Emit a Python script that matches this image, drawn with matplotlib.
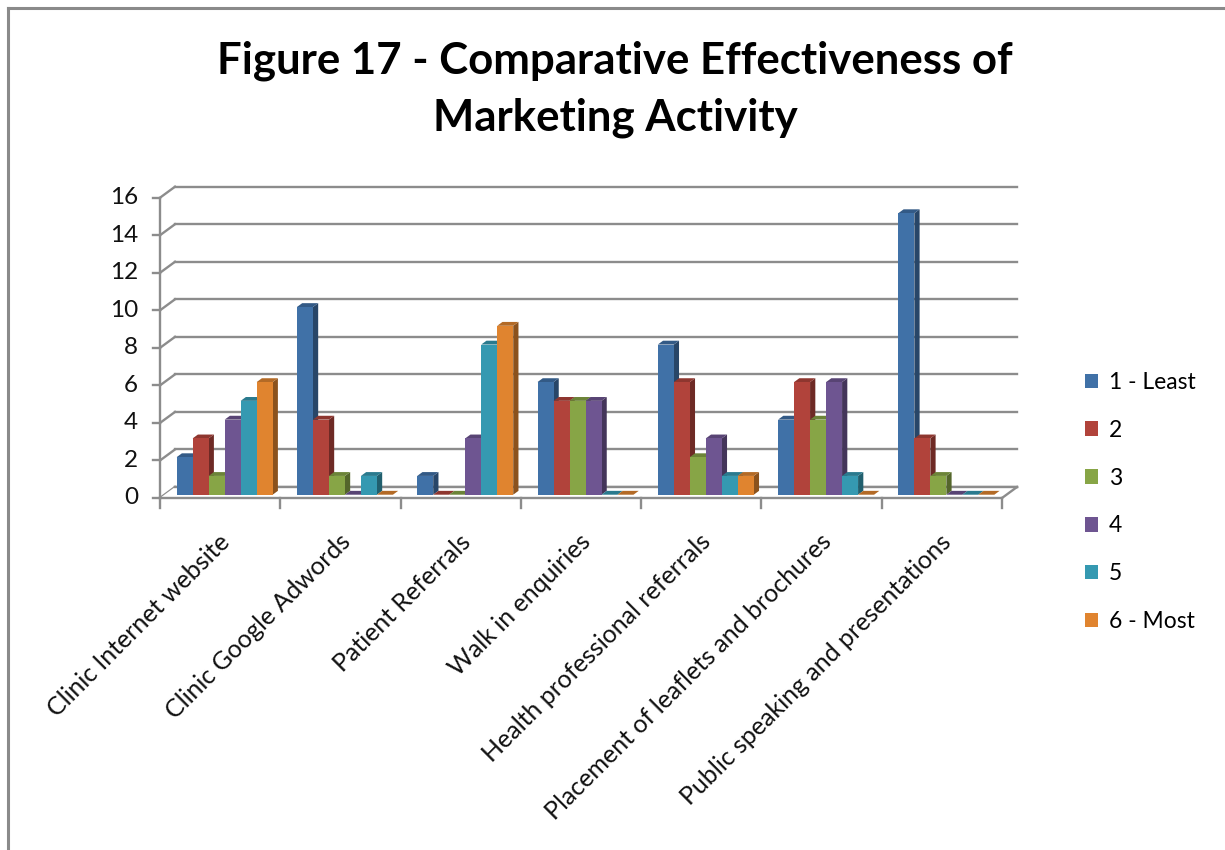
import numpy as np
import matplotlib.pyplot as plt
from matplotlib.patches import Polygon, Patch
from matplotlib.lines import Line2D
from matplotlib.colors import to_rgb

plt.rcParams['font.family'] = ['Lato', 'DejaVu Sans']

categories = ['Clinic Internet website', 'Clinic Google Adwords', 'Patient Referrals',
              'Walk in enquiries', 'Health professional referrals',
              'Placement of leaflets and brochures', 'Public speaking and presentations']
series_names = ['1 - Least', '2', '3', '4', '5', '6 - Most']
least = [2, 10, 1, 6, 8, 4, 15]
two = [3, 4, 0, 5, 6, 6, 3]
three = [1, 1, 0, 5, 2, 4, 1]
four = [4, 0, 3, 5, 3, 6, 0]
five = [5, 1, 8, 0, 1, 1, 0]
most = [6, 0, 9, 0, 1, 0, 0]
yticks = [0, 2, 4, 6, 8, 10, 12, 14, 16]

colors = ['#4071a7', '#b1433b', '#87a546', '#6e5591', '#3599b1', '#e0842f']
values = [least, two, three, four, five, most]

W, H = 1225, 850
fig = plt.figure(figsize=(W / 100, H / 100), dpi=100)
fig.patch.set_facecolor('white')

# front plane of the plot box in pixels
left_px, right_px, base_px, top_px = 160, 1002, 498, 197.7
ax = fig.add_axes([left_px / W, (H - base_px) / H, (right_px - left_px) / W, (base_px - top_px) / H])
n = len(categories)
ax.set_xlim(0, n)
ax.set_ylim(0, 16)
ax.axis('off')

px_x = n / (right_px - left_px)      # data units per pixel, x
px_y = 16 / (base_px - top_px)       # data units per pixel, y
DX, DY = 15 * px_x, 11 * px_y        # floor depth

grid_c = '#8c8c8c'
lw = 1.7
txt_c = '#111111'

# back wall gridlines + side wall ticks
for v in yticks:
    ax.add_line(Line2D([DX, n + DX], [v + DY, v + DY], color=grid_c, lw=lw, clip_on=False, zorder=1))
    ax.add_line(Line2D([0, DX], [v, v + DY], color=grid_c, lw=lw, clip_on=False, zorder=1))
    ax.add_line(Line2D([-7 * px_x, 0], [v, v], color=grid_c, lw=lw, clip_on=False, zorder=1))
    ax.text(-22 * px_x, v, str(v), ha='right', va='center', fontsize=17.5, color=txt_c)

# floor
floor = Polygon([(0, 0), (n, 0), (n + DX, DY), (DX, DY)], closed=True,
                facecolor='white', edgecolor='none', clip_on=False, zorder=1.5)
ax.add_patch(floor)
ax.add_line(Line2D([DX, n + DX], [DY, DY], color=grid_c, lw=lw, clip_on=False, zorder=1.6))
ax.add_line(Line2D([0, n], [0, 0], color=grid_c, lw=lw, clip_on=False, zorder=1.6))
ax.add_line(Line2D([n, n + DX], [0, DY], color=grid_c, lw=lw, clip_on=False, zorder=1.6))
ax.add_line(Line2D([0, 0], [0, 16], color=grid_c, lw=lw, clip_on=False, zorder=1.6))
for i in range(n + 1):
    ax.add_line(Line2D([i, i], [0, -10 * px_y], color=grid_c, lw=lw, clip_on=False, zorder=1.6))


def shade(c, f):
    r, g, b = to_rgb(c)
    return (r * f, g * f, b * f)


# bars sit in the middle of the floor depth
fx, fy = 0.3 * DX, 0.3 * DY
ddx, ddy = 0.35 * DX, 0.35 * DY
bw = 16 * px_x
gap = (1 - len(values) * bw) / 2

for i in range(n):
    for j, vals in enumerate(values):
        h = vals[i]
        x0 = i + gap + j * bw + fx
        y0 = fy
        c = colors[j]
        side = [(x0 + bw, y0), (x0 + bw + ddx, y0 + ddy), (x0 + bw + ddx, y0 + h + ddy), (x0 + bw, y0 + h)]
        top = [(x0, y0 + h), (x0 + bw, y0 + h), (x0 + bw + ddx, y0 + h + ddy), (x0 + ddx, y0 + h + ddy)]
        front = [(x0, y0), (x0 + bw, y0), (x0 + bw, y0 + h), (x0, y0 + h)]
        ax.add_patch(Polygon(side, closed=True, facecolor=shade(c, 0.62), edgecolor='none', clip_on=False, zorder=2))
        ax.add_patch(Polygon(top, closed=True, facecolor=shade(c, 0.8), edgecolor='none', clip_on=False, zorder=2))
        if h > 0:
            ax.add_patch(Polygon(front, closed=True, facecolor=c, edgecolor='none', clip_on=False, zorder=2))

# category labels
for i, name in enumerate(categories):
    ax.text(i + 0.5 + 6 * px_x, -40 * px_y, name, rotation=45, rotation_mode='anchor',
            ha='right', va='center', fontsize=18, color=txt_c)

handles = [Patch(facecolor=c, edgecolor='none') for c in colors]
fig.legend(handles, series_names, loc='center left', bbox_to_anchor=(1064 / W, (H - 502) / H),
           frameon=False, fontsize=16.5, handlelength=0.6, handleheight=0.6,
           handletextpad=0.45, labelspacing=1.17)

fig.text(615 / W, 1 - 89 / H, 'Figure 17 - Comparative Effectiveness of\nMarketing Activity',
         ha='center', va='center', fontsize=31.5, fontweight='bold', linespacing=1.5, color='black')

# outer frame (top and left edges)
fig.add_artist(Line2D([8 / W, 1], [1 - 8 / H, 1 - 8 / H], color='#8a8a8a', lw=2.2, transform=fig.transFigure))
fig.add_artist(Line2D([8 / W, 8 / W], [0, 1 - 8 / H], color='#8a8a8a', lw=2.2, transform=fig.transFigure))

fig.savefig('out.png', dpi=100)
